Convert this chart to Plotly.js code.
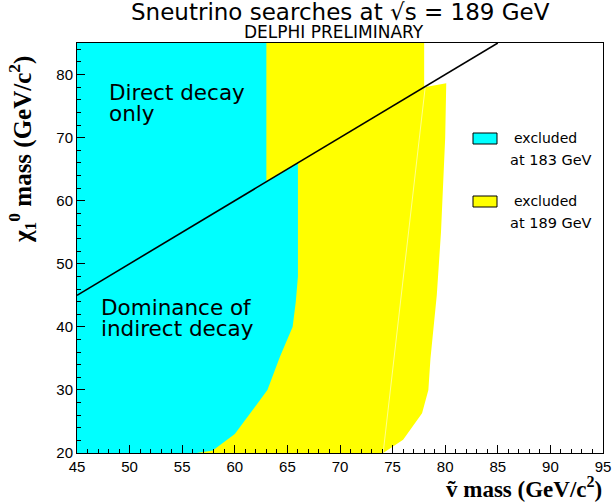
<!DOCTYPE html>
<html>
<head>
<meta charset="utf-8">
<script src="https://cdn.plot.ly/plotly-3.0.1.min.js"></script>
<style>html,body{margin:0;padding:0;background:#fff;}#chart{width:613px;height:503px;}</style>
</head>
<body>
<div id="chart"></div>
<script>
// Region excluded at 183 GeV (cyan)
var cyanX = [45, 45, 63, 63, 66, 66, 65.8, 65.5, 64.3, 63.1, 62.4, 60, 57.9, 56.4];
var cyanY = [20, 85, 85, 63, 66, 48, 44, 40, 35.3, 30, 28.4, 23, 20.4, 20];
// Region excluded at 189 GeV (yellow)
var yellowX = [50, 50, 78, 78, 80.1, 80, 79.6, 79.2, 78.6, 78.4, 77.8, 76.9, 76, 75, 74.1];
var yellowY = [20, 85, 85, 78, 78.6, 70, 55, 45, 35, 30, 26.3, 24.1, 22.1, 21, 20];
// faint seam between the two yellow polygons
var seamX = [78.1, 74.1];
var seamY = [78, 20];
// kinematic line m_chi = m_sneutrino
var kinX = [45, 85];
var kinY = [45, 85];
var legendLine1 = ["excluded", "excluded"];
var legendLine2 = ["at 183 GeV", "at 189 GeV"];
var legendColors = ["#00ffff", "#ffff00"];

var traces = [
  {x: yellowX, y: yellowY, mode: 'lines', fill: 'toself', fillcolor: '#ffff00', line: {width: 0, color: '#ffff00'}, hoverinfo: 'skip'},
  {x: seamX, y: seamY, mode: 'lines', line: {width: 1, color: 'rgba(255,255,255,0.55)'}, hoverinfo: 'skip'},
  {x: cyanX, y: cyanY, mode: 'lines', fill: 'toself', fillcolor: '#00ffff', line: {width: 0, color: '#00ffff'}, hoverinfo: 'skip'},
  {x: kinX, y: kinY, mode: 'lines', line: {width: 1.6, color: '#000'}, hoverinfo: 'skip'}
];

var sansFont = 'Liberation Sans, Arial, sans-serif';
var wideFont = 'DejaVu Sans, Verdana, sans-serif';
var serifFont = 'Liberation Serif, DejaVu Serif, Times New Roman, serif';

function px(xp) { return (xp - 77) / 526; }
function py(yp) { return (453 - yp) / 410; }

var annotations = [];
function label(xref, yref, x, y, text, font, xanchor, extra) {
  var a = {xref: xref, yref: yref, x: x, y: y, text: text, font: font, xanchor: xanchor || 'left',
           yanchor: 'middle', align: 'left', showarrow: false};
  if (extra) Object.assign(a, extra);
  annotations.push(a);
}
var annFont = {family: wideFont, size: 21.5, color: '#000'};
label('x', 'y', 47.85, 77.2, 'Direct decay', annFont);
label('x', 'y', 47.85, 73.9, 'only', annFont);
label('x', 'y', 47.1, 43.0, 'Dominance of', annFont);
label('x', 'y', 47.1, 39.8, 'indirect decay', annFont);

// titles
label('paper', 'paper', px(340), py(12.5), 'Sneutrino searches at \u221As = 189 GeV',
      {family: wideFont, size: 23, color: '#000'}, 'center');
label('paper', 'paper', px(334), py(32), 'DELPHI PRELIMINARY',
      {family: wideFont, size: 17, color: '#000'}, 'center');
// axis titles
label('paper', 'paper', px(604), py(487), '<b>\u1E7D mass (GeV/c<sup>2</sup>)</b>',
      {family: serifFont, size: 23, color: '#000'}, 'right');
label('paper', 'paper', px(22), py(150), '<b>\u03C7<sub>1</sub><sup>0</sup> mass (GeV/c<sup>2</sup>)</b>',
      {family: serifFont, size: 25, color: '#000'}, 'center', {textangle: -90});

var shapes = [];
var boxTop = [133, 196];
var legFont = {family: wideFont, size: 14, color: '#000'};
var legFont2 = {family: wideFont, size: 14.5, color: '#000'};
for (var i = 0; i < legendLine1.length; i++) {
  shapes.push({type: 'rect', xref: 'paper', yref: 'paper',
    x0: px(473), x1: px(497), y0: py(boxTop[i]), y1: py(boxTop[i] + 11),
    fillcolor: legendColors[i], line: {color: '#000', width: 1}});
  label('paper', 'paper', px(512), py(boxTop[i] + 5), legendLine1[i], legFont);
  label('paper', 'paper', px(508), py(boxTop[i] + 27), legendLine2[i], legFont2);
}

var axisCommon = {
  showgrid: false, zeroline: false, showline: true, linecolor: '#000', linewidth: 1, mirror: true,
  ticks: 'inside', ticklen: 8, tickcolor: '#000', tickwidth: 1,
  tickfont: {family: sansFont, size: 15, color: '#000'}
};

var layout = {
  width: 613, height: 503,
  margin: {l: 77, r: 10, t: 43, b: 50, pad: 0},
  paper_bgcolor: '#fff', plot_bgcolor: '#fff',
  showlegend: false,
  xaxis: Object.assign({}, axisCommon, {range: [45, 95], dtick: 5, tick0: 45,
    minor: {dtick: 1, ticklen: 4, tickcolor: '#000', ticks: 'inside'}}),
  yaxis: Object.assign({}, axisCommon, {range: [20, 85], dtick: 10, tick0: 20,
    minor: {dtick: 2, ticklen: 4, tickcolor: '#000', ticks: 'inside'}}),
  annotations: annotations,
  shapes: shapes
};

Plotly.newPlot('chart', traces, layout, {staticPlot: true});
</script>
</body>
</html>
